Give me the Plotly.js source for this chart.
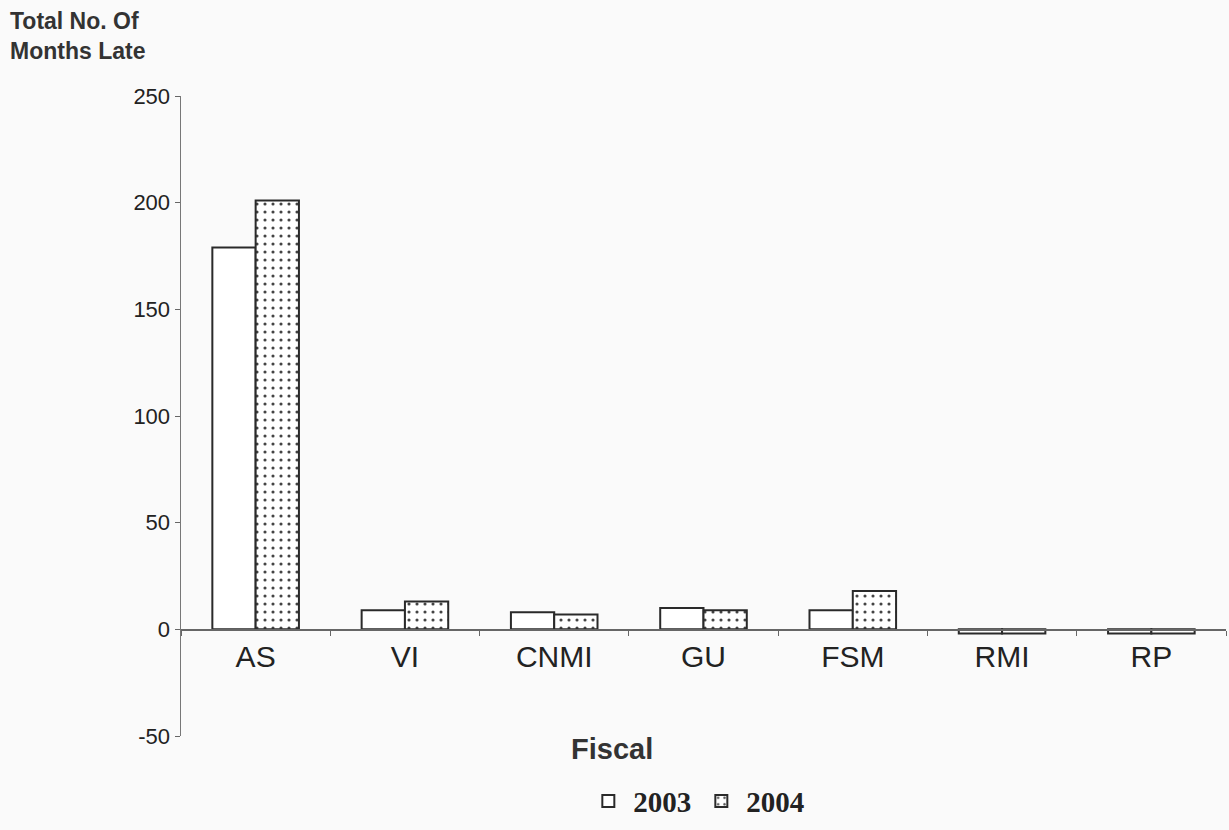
<!DOCTYPE html>
<html>
<head>
<meta charset="utf-8">
<script src="https://cdn.plot.ly/plotly-3.0.1.min.js"></script>
<style>
  html, body { margin: 0; padding: 0; background: #fafafa; }
  #chart { width: 1229px; height: 830px; }
</style>
</head>
<body>
<div id="chart"></div>
<script>
// Months late by jurisdiction, fiscal 2003 vs 2004
const categories = ['AS', 'VI', 'CNMI', 'GU', 'FSM', 'RMI', 'RP'];
const months2003 = [179, 9, 8, 10, 9, -2, -2];
const months2004 = [201, 13, 7, 9, 18, -2, -2];
const yTicks = [-50, 0, 50, 100, 150, 200, 250];
const yTickText = ['-50', '0', '50', '100', '150', '200', '250'];

const barLine = { color: '#2a2a2a', width: 2 };

const traces = [
  {
    type: 'bar', name: '2003', x: categories, y: months2003,
    marker: { color: '#ffffff', line: barLine },
    hoverinfo: 'x+y+name'
  },
  {
    type: 'bar', name: '2004', x: categories, y: months2004,
    marker: {
      color: '#ffffff', line: barLine,
      pattern: { shape: '.', fgcolor: '#444', bgcolor: '#ffffff', size: 8, solidity: 0.12 }
    },
    hoverinfo: 'x+y+name'
  }
];

const layout = {
  width: 1229, height: 830,
  margin: { l: 181, r: 3, t: 96, b: 92 },
  paper_bgcolor: '#fafafa',
  plot_bgcolor: 'rgba(0,0,0,0)',
  font: { family: 'Liberation Sans, Arial, sans-serif', color: '#222' },
  barmode: 'group',
  bargap: 0.42,
  bargroupgap: 0,
  showlegend: true,
  legend: {
    orientation: 'h', x: 0.385, xanchor: 'left', y: -0.062, yanchor: 'top',
    font: { family: 'Liberation Serif, Times New Roman, serif', size: 29, color: '#222', weight: 'bold' },
    bgcolor: 'rgba(0,0,0,0)', itemwidth: 40, traceorder: 'normal'
  },
  xaxis: {
    type: 'category',
    anchor: 'free', position: 1 / 6,
    showline: true, linecolor: '#666', linewidth: 1.5,
    ticks: 'outside', tickson: 'boundaries', ticklen: 5, tickcolor: '#666',
    tickfont: { size: 30, color: '#222' },
    showgrid: false, zeroline: false,
    range: [-0.5, 6.5]
  },
  yaxis: {
    range: [-50, 250],
    tickvals: yTicks, ticktext: yTickText,
    ticks: 'outside', ticklen: 5, tickcolor: '#666',
    showline: true, linecolor: '#777', linewidth: 1.5,
    showgrid: false, zeroline: false,
    tickfont: { size: 22, color: '#222' }
  },
  annotations: [
    {
      text: '<b>Total No. Of<br>Months Late</b>', xref: 'paper', yref: 'paper',
      x: -0.1656, xanchor: 'left', y: 1.14, yanchor: 'top', align: 'left',
      showarrow: false, font: { size: 23, color: '#333' }
    },
    {
      text: '<b>Fiscal</b>', xref: 'paper', yref: 'paper',
      x: 0.412, xanchor: 'center', y: 0.008, yanchor: 'top',
      showarrow: false, font: { size: 29, color: '#333' }
    }
  ]
};

Plotly.newPlot('chart', traces, layout, { displayModeBar: false, staticPlot: true });
</script>
</body>
</html>
